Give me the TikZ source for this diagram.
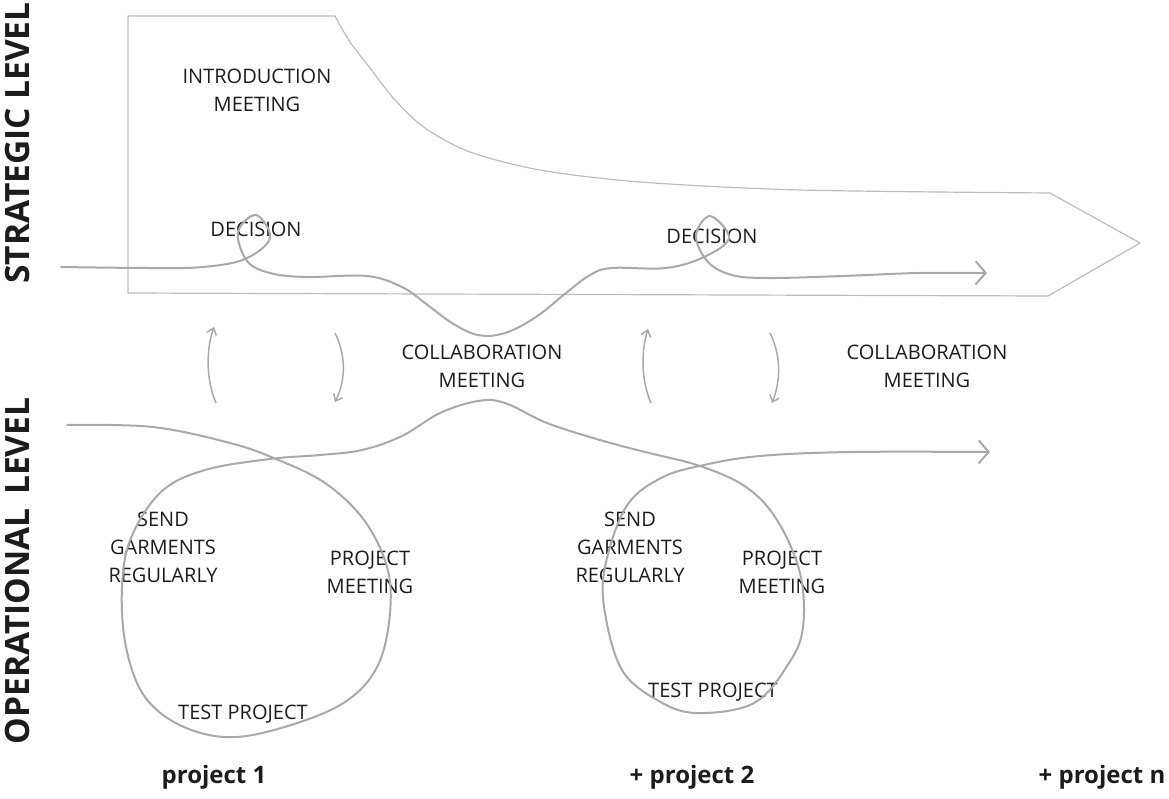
\documentclass[tikz,border=0pt]{standalone}
\usepackage{fontspec}
\setmainfont{Open Sans}
\usetikzlibrary{arrows.meta, positioning}

\definecolor{inkgray}{HTML}{1C1C1C}
\definecolor{penline}{HTML}{A9A9A9}
\definecolor{frameline}{HTML}{BDBDBD}

\begin{document}
\begin{tikzpicture}[
    x=1pt, y=-1pt,
    label/.style={text=inkgray, align=center, inner sep=0pt, font=\fontsize{20}{28}\selectfont},
    level/.style={text=inkgray, rotate=90, inner sep=0pt, font=\fontsize{33.5}{36}\selectfont\bfseries},
    project/.style={text=inkgray, inner sep=0pt, font=\fontsize{24}{28}\selectfont\bfseries},
    frame/.style={draw=frameline, line width=1.2pt, line join=round},
    flow/.style={draw=penline, line width=2pt, line cap=round},
    flowtip/.style={-{Straight Barb[length=10pt, width=23pt, line width=2pt]}},
    swap/.style={draw=penline, line width=1.5pt, -{Straight Barb[length=6pt, width=10pt, line width=1.5pt]}}
]
\useasboundingbox (0,0) rectangle (1169,798);

% levels
\node [level] (strategic) at (18,143) {STRATEGIC LEVEL};
\node [level] (operational) at (18,571) {OPERATIONAL\hspace{0.15em} LEVEL};

% strategic arrow shape
\draw [frame] (128,16) -- (335,16) -- plot [smooth] coordinates {(335,16) (350,42) (370,68) (395,100) (425,128) (470,152) (540,170) (640,182) (800,190) (1050,193)}
    -- (1140,243) -- (1048,296) -- (128,293) -- cycle;

% texts, strategic level
\node [label] (intro) at (257,90) {INTRODUCTION\\MEETING};
\node [label] (decision1) at (256,229) {DECISION};
\node [label] (decision2) at (712,236) {DECISION};

% texts, between the levels
\node [label] (collab1) at (482,366) {COLLABORATION\\MEETING};
\node [label] (collab2) at (927,366) {COLLABORATION\\MEETING};

% texts, project loops
\node [label] (send1) at (163,547) {SEND\\GARMENTS\\REGULARLY};
\node [label] (pmeet1) at (370,572) {PROJECT\\MEETING};
\node [label] (test1) at (243,714) {TEST PROJECT};
\node [label] (send2) at (630,547) {SEND\\GARMENTS\\REGULARLY};
\node [label] (pmeet2) at (782,572) {PROJECT\\MEETING};
\node [label] (test2) at (713,692) {TEST PROJECT};

% projects
\node [project] (proj1) at (214,777) {project 1};
\node [project] (proj2) at (692,777) {+ project 2};
\node [project] (projn) at (1102,777) {+ project n};

% strategic flow
\coordinate (stratend) at (987,273);
\draw [flow, flowtip] plot [smooth, tension=0.6] coordinates {(61,267) (150,268) (203,267) (245,259) (270,238) (256,215) (238,232) (247,261) (270,273) (306,277) (367,276) (402,287) (425,303) (452,323) (478,335) (505,333) (536,317) (566,293) (590,275) (612,268) (666,268) (704,257) (729,238) (710,216) (696,236) (708,262) (732,275) (768,278) (843,276) (918,273) (stratend)};

% operational flow
\coordinate (operend) at (990,452);
\draw [flow, flowtip] plot [smooth, tension=0.6] coordinates {(67,425) (153,427) (230,443) (276,459) (325,483) (364,520) (387,567) (390,613) (379,663) (352,697) (306,720) (237,737) (184,727) (145,697) (126,647) (122,587) (131,538) (161,492) (205,470) (270,459) (320,455) (362,450) (402,436) (440,413) (478,401) (505,403) (547,423) (600,440) (645,452) (700,466) (746,487) (777,520) (800,573) (803,627) (789,663) (754,703) (696,713) (657,700) (622,670) (605,613) (605,567) (626,507) (661,478) (704,465) (760,456) (850,452) (operend)};

% exchange between levels
\coordinate (up1a) at (216,403);  \coordinate (up1b) at (214,327);
\coordinate (dn1a) at (335,333);  \coordinate (dn1b) at (335,402);
\coordinate (up2a) at (651,403);  \coordinate (up2b) at (648,329);
\coordinate (dn2a) at (770,333);  \coordinate (dn2b) at (772,403);
\draw [swap] (up1a) .. controls (206,380) and (206,350) .. (up1b);
\draw [swap] (dn1a) .. controls (346,355) and (346,380) .. (dn1b);
\draw [swap] (up2a) .. controls (641,380) and (641,352) .. (up2b);
\draw [swap] (dn2a) .. controls (781,355) and (781,380) .. (dn2b);

\end{tikzpicture}
\end{document}
